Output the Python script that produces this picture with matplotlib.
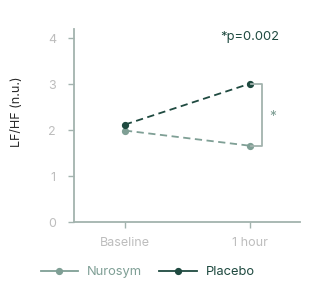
import matplotlib
matplotlib.use("Agg")
import matplotlib.pyplot as plt

plt.rcParams["font.family"] = ["Inter", "DejaVu Sans"]

timepoints = ["Baseline", "1 hour"]
nurosym = [1.99, 1.66]
placebo = [2.12, 3.01]
y_ticks = [0, 1, 2, 3, 4]

c_nuro = "#7f9f95"
c_plac = "#1f4a40"
c_axis = "#a3b3ae"
c_tick = "#bdbdbd"

fig = plt.figure(figsize=(3.34, 2.92), dpi=100)
ax = fig.add_axes([0.2216, 0.2397, 0.676, 0.661])

x = list(range(len(timepoints)))
l1, = ax.plot(x, nurosym, ls=(0, (4, 2.5)), color=c_nuro, lw=1.3, marker="o", ms=4.2, label="Nurosym")
l2, = ax.plot(x, placebo, ls=(0, (4, 2.5)), color=c_plac, lw=1.3, marker="o", ms=4.2, label="Placebo")

# significance bracket
bx = 0.1
ax.plot([x[1] + 0.01, x[1] + bx, x[1] + bx, x[1] + 0.01],
        [placebo[1], placebo[1], nurosym[1], nurosym[1]], color=c_axis, lw=1.3)
ax.text(x[1] + bx + 0.08, (placebo[1] + nurosym[1]) / 2 - 0.05, "*", color=c_nuro,
        ha="center", va="center", fontsize=10)
ax.text(1.0, 4.02, "*p=0.002", color=c_plac, ha="center", va="center", fontsize=9.3)

ax.set_xlim(-0.408, 0.4 + 1)
ax.set_ylim(0, 4.2)
ax.set_xticks(x)
ax.set_xticklabels(timepoints)
ax.set_yticks(y_ticks)
ax.set_ylabel("LF/HF (n.u.)", fontsize=9, color="#2a2a2a")
ax.yaxis.set_label_coords(-0.225, 0.57)

for s in ["top", "right"]:
    ax.spines[s].set_visible(False)
for s in ["left", "bottom"]:
    ax.spines[s].set_color(c_axis)
    ax.spines[s].set_linewidth(1.3)
ax.tick_params(colors=c_axis, labelcolor=c_tick, labelsize=9, length=4, width=1, pad=9)
ax.tick_params(axis="x", pad=7)

leg = fig.legend(handles=[l1, l2], loc="center", bbox_to_anchor=(0.442, 0.068), ncol=2,
                 frameon=False, fontsize=9.3, handlelength=2.9, columnspacing=1.3,
                 handletextpad=0.7)
for h in leg.legend_handles:
    h.set_linestyle("-")
for t, c in zip(leg.get_texts(), [c_nuro, c_plac]):
    t.set_color(c)

fig.savefig("out.png", dpi=100)
